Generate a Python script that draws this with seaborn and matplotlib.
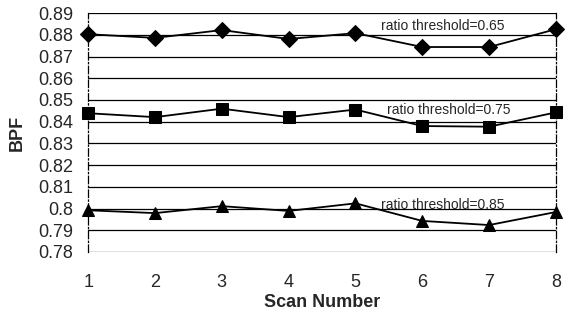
import seaborn as sns
import matplotlib.pyplot as plt
import pandas as pd
import numpy as np

sns.set_style(style='white')
plt.rcParams['font.family'] = ['Liberation Sans', 'DejaVu Sans']

scans = [1, 2, 3, 4, 5, 6, 7, 8]
bpf_065 = [0.8803, 0.8786, 0.8822, 0.8781, 0.8808, 0.8744, 0.8744, 0.8826]
bpf_075 = [0.8439, 0.8421, 0.8460, 0.8421, 0.8456, 0.8380, 0.8377, 0.8443]
bpf_085 = [0.7992, 0.7979, 0.8011, 0.7989, 0.8024, 0.7943, 0.7924, 0.7984]
labels = ['ratio threshold=0.65', 'ratio threshold=0.75', 'ratio threshold=0.85']
y_ticks = [0.78, 0.79, 0.80, 0.81, 0.82, 0.83, 0.84, 0.85, 0.86, 0.87, 0.88, 0.89]
y_tick_labels = ['0.78', '0.79', '0.8', '0.81', '0.82', '0.83', '0.84', '0.85',
                 '0.86', '0.87', '0.88', '0.89']

df = pd.DataFrame({
    'scan': scans * 3,
    'bpf': bpf_065 + bpf_075 + bpf_085,
    'series': [labels[0]] * 8 + [labels[1]] * 8 + [labels[2]] * 8,
})

fig, ax = plt.subplots(figsize=(5.69, 3.13), dpi=100)
fig.subplots_adjust(left=0.155, right=0.977, bottom=0.195, top=0.958)

for y in y_ticks:
    ax.axhline(y, color='black', linewidth=0.9, zorder=0)

markers = {labels[0]: 'D', labels[1]: 's', labels[2]: '^'}
sizes = {labels[0]: 8, labels[1]: 9, labels[2]: 9}
for lab in labels:
    sub = df[df['series'] == lab]
    sns.lineplot(x='scan', y='bpf', data=sub, color='black', linewidth=1.3,
                 marker=markers[lab], markersize=sizes[lab], markeredgecolor='black',
                 ax=ax, clip_on=False, zorder=3)

ax.set_xlim(1, 8)
ax.set_ylim(0.78, 0.89)
ax.set_xticks(scans)
ax.set_yticks(y_ticks)
ax.set_yticklabels(y_tick_labels)
ax.tick_params(axis='both', labelsize=13, length=0)
ax.tick_params(axis='x', pad=16)
ax.tick_params(axis='y', pad=11)
ax.set_xlabel('Scan Number', fontsize=13, fontweight='bold', labelpad=2)
ax.set_ylabel('BPF', fontsize=13, fontweight='bold', labelpad=9)

ax.spines['top'].set_visible(False)
ax.spines['bottom'].set_visible(False)
for side in ['left', 'right']:
    ax.spines[side].set_linestyle((0, (6, 2, 1, 2)))
    ax.spines[side].set_linewidth(0.9)
    ax.spines[side].set_color('black')

ax.text(6.3, 0.8840, labels[0], fontsize=10, ha='center', va='center')
ax.text(6.4, 0.8452, labels[1], fontsize=10, ha='center', va='center')
ax.text(6.3, 0.8018, labels[2], fontsize=10, ha='center', va='center')

plt.savefig('out.png', dpi=100)
